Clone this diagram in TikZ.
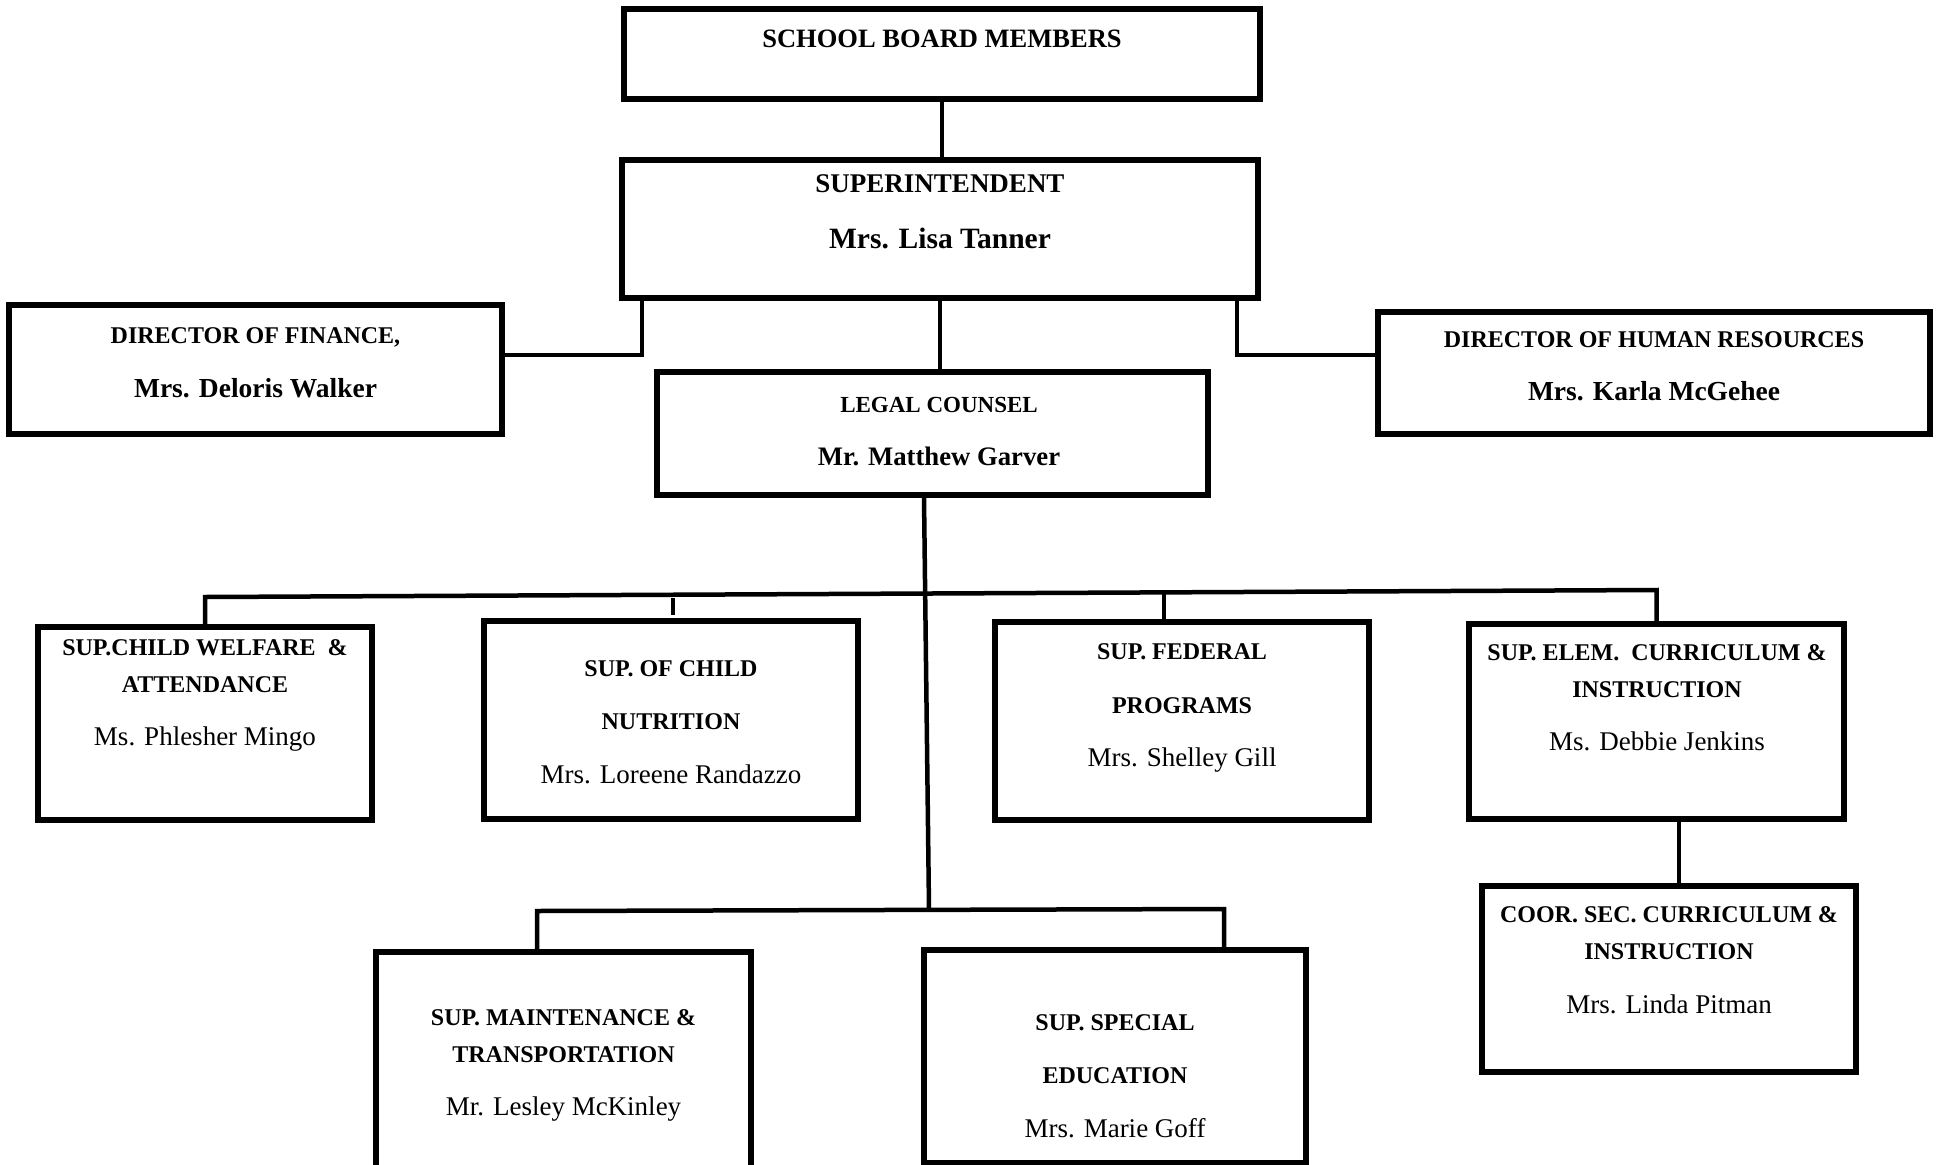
\documentclass[tikz,border=0pt]{standalone}
\usepackage{fontspec}
\setmainfont{Liberation Serif}
\begin{document}
\begin{tikzpicture}[x=1pt,y=-1pt,
  box/.style={draw,line width=5.5pt,inner sep=0pt},
  conn/.style={line width=4.5pt},
  ttl/.style={font=\fontsize{24}{28}\selectfont\bfseries,anchor=base,inner sep=0pt},
  nmb/.style={font=\fontsize{27.5}{32}\selectfont\bfseries,anchor=base,inner sep=0pt},
  nmr/.style={font=\fontsize{27}{32}\selectfont,anchor=base,inner sep=0pt}]
\useasboundingbox[fill=white] (0,0) rectangle (1939,1165);
\begin{scope}
\clip (0,0) rectangle (1939,1165);
% boxes
\node[box,minimum width=636pt,minimum height=90pt]  (sb)    at (942,54) {};
\node[box,minimum width=636pt,minimum height=138pt] (sup)   at (940,229) {};
\node[box,minimum width=493pt,minimum height=129pt] (fin)   at (255.5,369.5) {};
\node[box,minimum width=552pt,minimum height=122pt] (hr)    at (1654,373) {};
\node[box,minimum width=551pt,minimum height=123pt] (legal) at (932.5,433.5) {};
\node[box,minimum width=334pt,minimum height=193pt] (cw)    at (205,723.5) {};
\node[box,minimum width=374pt,minimum height=198pt] (nut)   at (671,720) {};
\node[box,minimum width=374pt,minimum height=198pt] (fed)   at (1182,721) {};
\node[box,minimum width=375pt,minimum height=195pt] (elem)  at (1656.5,721.5) {};
\node[box,minimum width=374pt,minimum height=186pt] (coor)  at (1669,979) {};
\node[box,minimum width=375pt,minimum height=228pt] (maint) at (563.5,1066) {};
\node[box,minimum width=382pt,minimum height=213pt] (sped)  at (1115,1056.5) {};

% texts
\node[ttl,font=\fontsize{26.5}{30}\selectfont\bfseries] (t-sb) at (942,47) {SCHOOL BOARD MEMBERS};
\node[ttl,font=\fontsize{27}{30}\selectfont\bfseries] (t-sup1) at (940,192) {SUPERINTENDENT};
\node[nmb,font=\fontsize{29.5}{32}\selectfont\bfseries] (t-sup2) at (940,248) {Mrs. Lisa Tanner};
\node[ttl] (t-fin1) at (255.5,343) {DIRECTOR OF FINANCE,};
\node[nmb] (t-fin2) at (255.5,397) {Mrs. Deloris Walker};
\node[ttl] (t-hr1) at (1654,347) {DIRECTOR OF HUMAN RESOURCES};
\node[nmb] (t-hr2) at (1654,400) {Mrs. Karla McGehee};
\node[ttl,font=\fontsize{23}{28}\selectfont\bfseries] (t-lg1) at (939,412) {LEGAL COUNSEL};
\node[nmb,font=\fontsize{26.7}{30}\selectfont\bfseries] (t-lg2) at (939,465) {Mr. Matthew Garver};
\node[ttl] (t-cw1) at (205,655) {SUP.CHILD WELFARE \ \&};
\node[ttl] (t-cw2) at (205,692) {ATTENDANCE};
\node[nmr] (t-cw3) at (205,745) {Ms. Phlesher Mingo};
\node[ttl] (t-nut1) at (671,676) {SUP. OF CHILD};
\node[ttl] (t-nut2) at (671,729) {NUTRITION};
\node[nmr] (t-nut3) at (671,783) {Mrs. Loreene Randazzo};
\node[ttl] (t-fed1) at (1182,659) {SUP. FEDERAL};
\node[ttl] (t-fed2) at (1182,713) {PROGRAMS};
\node[nmr] (t-fed3) at (1182,766) {Mrs. Shelley Gill};
\node[ttl] (t-el1) at (1657,660) {SUP. ELEM. \ CURRICULUM \&};
\node[ttl] (t-el2) at (1657,697) {INSTRUCTION};
\node[nmr] (t-el3) at (1657,750) {Ms. Debbie Jenkins};
\node[ttl] (t-co1) at (1669,922) {COOR. SEC. CURRICULUM \&};
\node[ttl] (t-co2) at (1669,959) {INSTRUCTION};
\node[nmr] (t-co3) at (1669,1013) {Mrs. Linda Pitman};
\node[ttl] (t-ma1) at (563.5,1025) {SUP. MAINTENANCE \&};
\node[ttl] (t-ma2) at (563.5,1062) {TRANSPORTATION};
\node[nmr] (t-ma3) at (563.5,1115) {Mr. Lesley McKinley};
\node[ttl] (t-sp1) at (1115,1030) {SUP. SPECIAL};
\node[ttl] (t-sp2) at (1115,1083) {EDUCATION};
\node[nmr] (t-sp3) at (1115,1137) {Mrs. Marie Goff};

% connectors
\draw[conn] (sb.south) -- (sb.south |- sup.north);
\draw[conn] (sup.south) -- (sup.south |- legal.north);
\coordinate (fj) at (642,355);
\coordinate (hj) at (1237,355);
\draw[conn] (sup.south -| fj) -- (fj) -- (fj -| fin.east);
\draw[conn] (sup.south -| hj) -- (hj) -- (hj -| hr.west);
% main trunk
\coordinate (trk) at (924,0);
\coordinate (lbl) at (537,911);
\coordinate (lbr) at (1224,909);
\coordinate (mbot) at (929,909);
\draw[conn] (legal.south -| trk) -- (mbot);
% upper bus
\coordinate (ubl) at (205,597);
\coordinate (ubr) at (1657,590);
\draw[conn] (cw.north) -- (cw.north |- ubl) -- (elem.north |- ubr) -- (elem.north);
\coordinate (fs) at (1164,592);
\draw[conn] (fed.north -| fs) -- (fs);
\coordinate (ns1) at (673,598);
\coordinate (ns2) at (673,615);
\draw[conn] (ns1) -- (ns2);
% lower bus
\draw[conn] (maint.north -| lbl) -- (lbl) -- (lbr) -- (sped.north -| lbr);
% elem to coor
\coordinate (ec) at (1679,0);
\draw[conn] (elem.south -| ec) -- (coor.north -| ec);
\end{scope}
\end{tikzpicture}
\end{document}
